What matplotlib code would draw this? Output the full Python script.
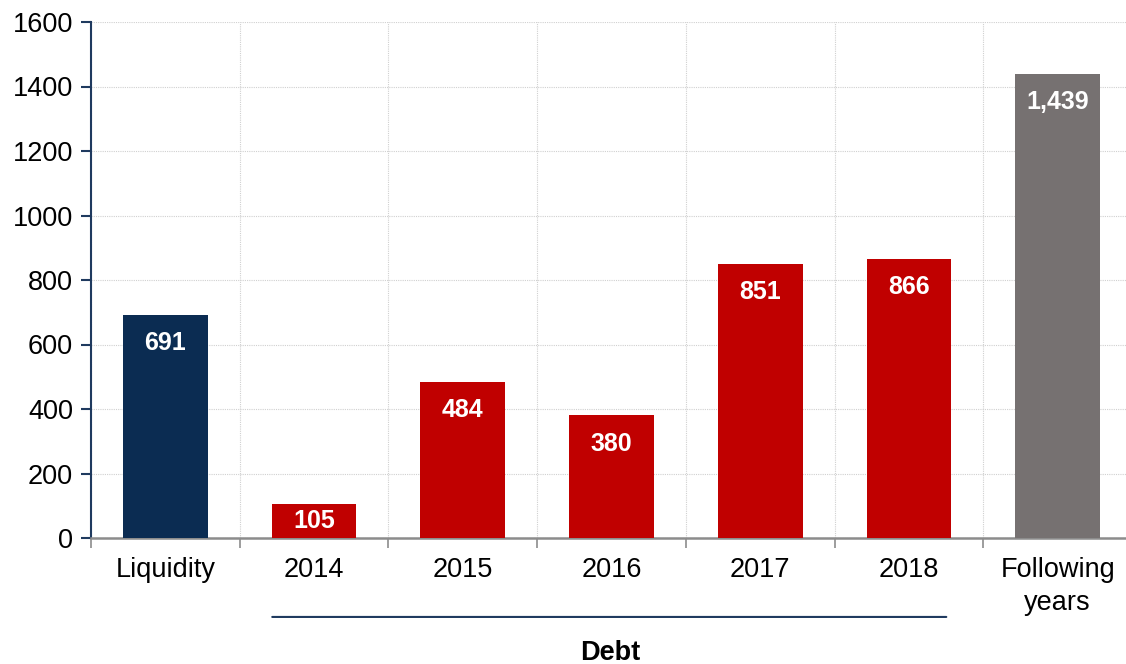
import matplotlib
matplotlib.use("Agg")
import matplotlib.pyplot as plt
import numpy as np

plt.rcParams["font.family"] = ["Liberation Sans", "DejaVu Sans"]

categories = ["Liquidity", "2014", "2015", "2016", "2017", "2018", "Following\nyears"]
values = [691, 105, 484, 380, 851, 866, 1439]
labels = ["691", "105", "484", "380", "851", "866", "1,439"]
bar_colors = ["#0B2C52", "#C00000", "#C00000", "#C00000", "#C00000", "#C00000", "#767171"]
group_label = "Debt"

W, H = 1126, 664
fig = plt.figure(figsize=(W / 100, H / 100), dpi=100)
ax = fig.add_axes([91 / W, 1 - 538 / H, (1132 - 91) / W, (538 - 22) / H])

x = np.arange(len(categories))
ax.bar(x, values, width=0.57, color=bar_colors, zorder=3)

ax.set_xlim(-0.5, len(categories) - 0.5)
ax.set_ylim(0, 1600)
ax.set_yticks(np.arange(0, 1601, 200))

# value labels inside the bar top
off = 87
for xi, v, lab in zip(x, values, labels):
    y = max(v - off, v / 2)
    ax.text(xi, y, lab, ha="center", va="center", color="white",
            fontsize=18, fontweight="bold", zorder=4)

# grid: dotted, at boundaries (x) and ticks (y)
ax.set_xticks(x)
ax.set_xticklabels(categories, fontsize=19.5, linespacing=1.35)
ax.set_xticks(np.arange(-0.5, len(categories), 1), minor=True)
ax.grid(True, axis="y", which="major", linestyle=(0, (1, 1)), color="#D0D0D0", linewidth=0.8)
ax.grid(True, axis="x", which="minor", linestyle=(0, (1, 1)), color="#D0D0D0", linewidth=0.8)
ax.grid(False, axis="x", which="major")
ax.tick_params(axis="x", which="major", length=0, pad=14)
ax.tick_params(axis="x", which="minor", length=7, color="#8C8C8C", width=1.2)
ax.tick_params(axis="y", length=7, color="#1F3A5F", width=1.5, labelsize=19.5, pad=6)

for s in ("top", "right"):
    ax.spines[s].set_visible(False)
ax.spines["left"].set_color("#1F3A5F")
ax.spines["left"].set_linewidth(1.5)
ax.spines["bottom"].set_color("#8C8C8C")
ax.spines["bottom"].set_linewidth(1.8)

# "Debt" bracket line under 2014-2018
ax.annotate("", xy=(0.7, -0.153), xytext=(5.27, -0.153),
            xycoords=("data", "axes fraction"),
            arrowprops=dict(arrowstyle="-", color="#1F3A5F", lw=1.5))
ax.text(2.99, -0.222, group_label, transform=ax.get_xaxis_transform(),
        ha="center", va="center", fontsize=19.5, fontweight="bold")

fig.savefig("out.png", dpi=100)
